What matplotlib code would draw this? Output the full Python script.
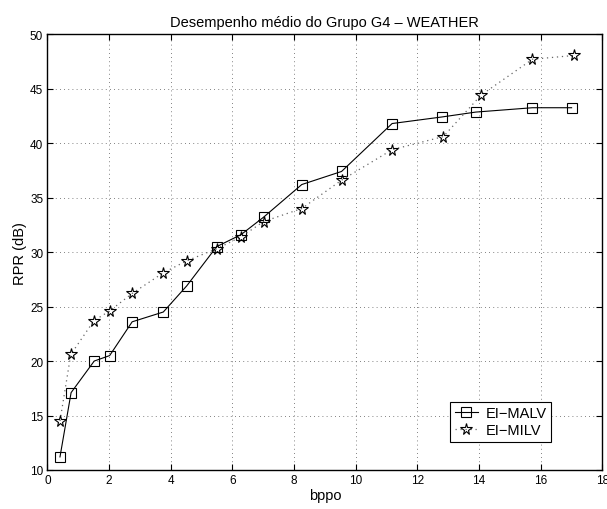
import matplotlib
matplotlib.use("Agg")
import matplotlib.pyplot as plt

# data
x_malv = [0.41, 0.77, 1.52, 2.02, 2.75, 3.76, 4.52, 5.49, 6.28, 7.01, 8.25, 9.54, 11.18, 12.79, 13.89, 15.73, 17.0]
y_malv = [11.2, 17.1, 20.0, 20.5, 23.6, 24.5, 26.9, 30.5, 31.6, 33.2, 36.2, 37.4, 41.8, 42.4, 42.85, 43.25, 43.25]

x_milv = [0.41, 0.76, 1.51, 2.02, 2.75, 3.76, 4.52, 5.49, 6.28, 7.01, 8.25, 9.54, 11.18, 12.84, 14.06, 15.73, 17.09]
y_milv = [14.5, 20.6, 23.7, 24.6, 26.2, 28.1, 29.2, 30.3, 31.4, 32.8, 34.0, 36.6, 39.4, 40.6, 44.4, 47.7, 48.05]

x_ticks = list(range(0, 19, 2))
y_ticks = list(range(10, 51, 5))

plt.rcParams['font.family'] = ['Liberation Sans', 'DejaVu Sans']

fig = plt.figure(figsize=(6.07, 5.10), dpi=100)
ax = fig.add_axes([0.078, 0.0765, 0.9145, 0.8545])

ax.plot(x_malv, y_malv, color='black', linestyle='-', linewidth=0.8,
        marker='s', markersize=6.5, markerfacecolor='none', markeredgecolor='black',
        markeredgewidth=0.8, label='EI\u2212MALV')
ax.plot(x_milv, y_milv, color='0.4', linestyle=(0, (1, 3)), linewidth=0.9,
        marker='*', markersize=8.5, markerfacecolor='none', markeredgecolor='black',
        markeredgewidth=0.8, label='EI\u2212MILV')

ax.set_xlim(0, 18)
ax.set_ylim(10, 50)
ax.set_xticks(x_ticks)
ax.set_yticks(y_ticks)
ax.tick_params(direction='in', top=True, right=True, labelsize=8.5, length=4, width=0.8, pad=3)
ax.grid(True, linestyle=(0, (1, 4)), color='0.35', linewidth=0.6)
for s in ax.spines.values():
    s.set_linewidth(1.0)

ax.set_xlabel('bppo', fontsize=10.5, labelpad=1)
ax.set_ylabel('RPR (dB)', fontsize=10.5, labelpad=2)
ax.set_title('Desempenho médio do Grupo G4 \u2013 WEATHER', fontsize=10.5, pad=6)

leg = ax.legend(loc='lower right', bbox_to_anchor=(0.907, 0.065), fontsize=10.5,
                fancybox=False, framealpha=1, edgecolor='black',
                borderpad=0.3, labelspacing=0.2, handlelength=1.6, handletextpad=0.5,
                borderaxespad=0)
leg.get_frame().set_linewidth(0.8)

plt.savefig('out.png', dpi=100)
